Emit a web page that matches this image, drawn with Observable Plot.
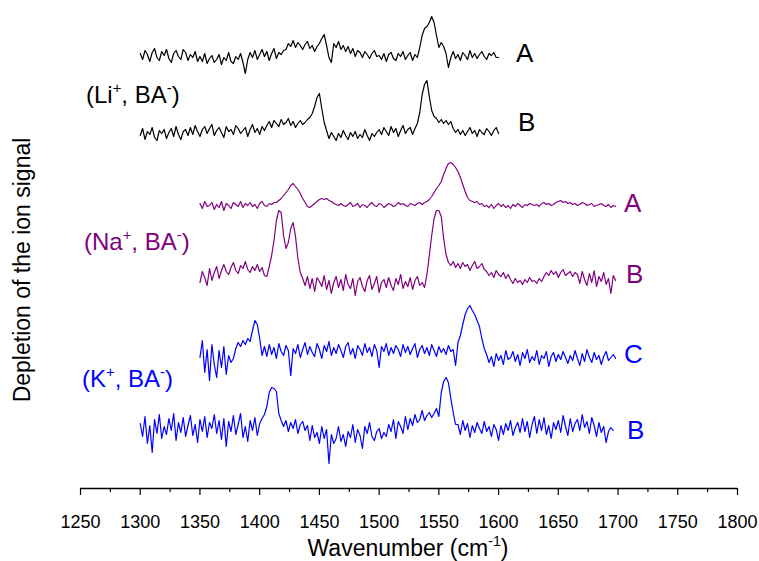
<!DOCTYPE html>
<html><head><meta charset="utf-8">
<script src="https://cdn.jsdelivr.net/npm/d3@7"></script>
<script src="https://cdn.jsdelivr.net/npm/@observablehq/plot@0.6"></script>
<style>body{margin:0;background:#fff}svg{font-family:"Liberation Sans",Arial,sans-serif}</style>
</head><body><div id="chart"></div>
<script>
// wavenumber grid: start + i*step (cm-1)
const step = 2;
const traceNames = ["LiA", "LiB", "NaA", "NaB", "KC", "KB"];
const traceStarts = [1300, 1300, 1350, 1350, 1350, 1300];
// vertical offsets of the stacked spectra (arbitrary units)
const traceOffsets = [433, 356, 283, 208, 136, 60];
const traceColors = ["#000000", "#000000", "#800080", "#800080", "#0000ff", "#0000ff"];
const traceLetters = ["A", "B", "A", "B", "C", "B"];
const groupNames = [["(Li", "+", ", BA", "-", ")"], ["(Na", "+", ", BA", "-", ")"], ["(K", "+", ", BA", "-", ")"]];
const groupColors = ["#000000", "#800080", "#0000ff"];

const liA = [2,-4,5,1,-6,3,7,-2,-5,4,0,6,-3,-7,2,5,-1,-4,6,3,-5,1,-2,4,-6,
  -1,-6,2,-8,-3,0,-7,-4,1,-9,-2,-5,3,-6,-8,-1,-4,2,-7,
  -18,-4,
  3,-2,5,-4,1,6,-1,4,-5,2,7,-3,3,1,5,
  6,12,9,15,8,13,10,6,11,14,7,10,4,9,12,
  17,21,10,-2,-7,
  12,8,14,6,10,4,9,2,7,-1,5,3,-2,4,1,-3,2,5,-1,0,
  -4,2,-6,1,3,-3,-5,2,-1,4,-4,0,3,-5,1,-2,
  8,20,27,29,33,39,33,20,8,13,9,2,-12,-2,
  4,-3,1,-5,3,0,-4,5,-2,2,-3,1,4,-1,-4,2,0,3,-2,-2];
const liB = [-3,4,-7,1,-2,5,-5,-8,2,-1,3,-6,0,4,-4,6,-2,-7,1,3,-3,
  5,-2,7,1,-4,3,6,-1,4,8,-3,2,5,0,-5,6,1,3,-2,7,4,-1,2,5,-4,3,8,0,4,-2,6,2,
  7,11,5,12,9,6,13,8,10,14,7,11,5,9,12,8,10,13,
  15,19,26,35,39,24,10,2,
  -6,0,-4,-8,-1,-5,2,-3,-7,0,-4,1,-6,-2,-5,3,-3,-8,-1,-4,0,
  3,-2,5,1,-3,6,0,4,-4,2,7,-1,3,5,-2,4,
  9,20,38,48,52,36,22,16,
  14,10,13,9,12,8,11,
  4,0,3,-2,2,-3,1,5,-1,2,-4,3,0,-2,4,1,-3,2,5,-1];
const naA = [2,-3,4,-1,0,3,-4,1,-2,4,-5,2,0,-3,3,1,-1,4,-2,2,0,3,-1,1,-3,2,4,0,-1,2,1,3,
  3,5,7,10,13,16,20,22,19,16,12,7,3,-1,-2,
  0,2,4,6,7,6,7,5,4,2,1,0,
  2,0,-1,1,3,-1,0,2,-2,1,0,-2,1,3,0,-1,2,1,-2,0,2,1,-1,0,3,1,2,0,-1,2,1,0,2,3,1,
  3,4,6,9,13,17,20,24,31,37,42,43,41,38,34,28,21,14,8,5,4,3,4,1,
  2,-1,0,-2,1,-3,0,2,-1,1,-2,0,-3,1,-1,2,0,-2,1,0,2,1,0,1,-1,2,3,1,
  2,0,1,3,4,5,3,4,2,3,1,2,0,1,3,2,0,1,2,-1,0,1,2,0,-1,1,-2,0,-1];
const naB = [-2,9,3,-5,12,0,8,14,2,10,
  16,9,6,13,18,10,7,15,12,19,11,8,14,10,16,9,13,5,
  4,14,25,40,60,70,68,45,32,38,52,58,44,22,8,2,
  -5,4,-8,2,-11,3,-1,-6,5,-9,0,-13,-2,4,-7,1,-10,6,-4,-8,2,-15,-1,3,-6,-11,0,5,-9,-3,
  4,-12,-2,1,-7,3,-5,-10,2,-4,6,-8,-1,-6,3,-9,0,4,-5,-2,-7,
  6,25,45,62,70,70,64,42,26,18,
  15,19,13,17,12,18,14,16,10,15,19,12,14,17,11,
  9,5,8,3,10,6,4,8,2,6,
  1,-3,2,-2,0,-4,1,-2,3,-1,0,-3,2,-1,
  4,8,5,10,6,9,3,8,11,5,7,9,4,8,
  6,-3,9,1,-5,7,-2,10,-6,4,-1,8,-4,2,-13,5,0];
const kC = [-5,12,-20,3,-28,8,-12,-25,2,-15,6,-22,-3,-10,
  -6,4,10,6,12,8,14,11,
  22,32,28,14,-3,
  6,-4,8,-2,5,-6,9,1,-3,7, 2,-23,4,-1,8,-5,3,10,-2,6, 0,-4,9,3,-6,7,1,11,-3,5,
  -1,8,2,-5,6,10,-2,4,-6,7, 3,-3,9,0,5,-4,8,2,-15,6, 1,9,-3,5,-1,7,3,-4,8,0,
  6,-2,4,9,-5,3,7,-1,5,-3, 8,2,-4,6,0,4,-2,7,1,3,
  -13,10,17,28,38,44,47,42,38,32,26,14,4,
  -2,-10,-4,-14,-1,-8,-3,-12,2,-7, -5,1,-9,-2,-13,0,-6,3,-10,-4, -8,2,-12,-3,-6,1,-14,-4,0,-9,
  -2,-7,1,-5,-11,-3,-8,2,-6,-13, -1,-9,3,-5,-10,0,-7,-3,-12,-4, 1,-8,-5,-2,-6];
const kB = [5,-8,12,-15,3,-24,9,-5,14,-10, 2,-6,10,-2,15,-12,6,-4,11,-8, 3,13,-7,4,-14,9,-3,12,-9,6,
  0,14,-5,8,-11,10,-18,7,-3,13, -6,4,15,-9,2,-13,8,-2,11,-7, 5,10,
  14,22,36,41,40,37,15,8,
  2,8,-3,6,0,9,-5,4,7,-2,3,
  -12,3,-9,-4,-15,2,-10,-1,-35,-6,-15,-10,2,-13,-6,-18, -3,-9,4,-14,-1,-7,-20,2,-5,6, -8,-12,-3,0,-10,-4,
  -8,4,-3,9,-10,7,2,-5,12,-1,10,3,14,6,9,18,8,13,16,11,15,20,12,
  36,47,51,46,30,16,4,
  4,-6,8,-2,5,-9,3,-4,6,0, -5,7,-3,2,-8,4,-1,-12,3,-6, 5,-2,8,-7,1,6,-4,10,-3,7,
  -9,4,12,-5,9,-2,11,-6,3,-10, 6,-1,8,-4,13,2,-7,10,-3,5, 9,-2,14,1,7,-5,11,3,-8,6, -4,2,-14,-3,1,-2];
const traceValues = [liA, liB, naA, naB, kC, kB];

const majorTicks = [1250,1300,1350,1400,1450,1500,1550,1600,1650,1700,1750,1800];
const minorTicks = [1275,1325,1375,1425,1475,1525,1575,1625,1675,1725,1775];

const rows = traceValues.map((vals, k) => vals.map((v, i) => ({
  wn: traceStarts[k] + i * step, y: traceOffsets[k] + v, trace: traceNames[k]
})));

const chart = Plot.plot({
  width: 759, height: 561,
  marginLeft: 80, marginRight: 22, marginTop: 18, marginBottom: 73,
  x: {domain: [1250, 1800]},
  y: {domain: [0, 470], axis: null},
  style: {fontFamily: '"Liberation Sans", Arial, sans-serif', background: "#fff", color: "#000"},
  marks: [
    ...rows.map((r, k) => Plot.line(r, {x: "wn", y: "y", stroke: traceColors[k], strokeWidth: 1.2})),
    Plot.ruleY([0], {stroke: "#000", strokeWidth: 1.3}),
    Plot.axisX({ticks: minorTicks, tickSize: 4, tickFormat: () => "", label: null, strokeWidth: 1.2}),
    Plot.axisX({ticks: majorTicks, tickSize: 7, tickPadding: 20, fontSize: 18, tickFormat: d => String(d), label: null, strokeWidth: 1.2})
  ]
});
document.getElementById("chart").appendChild(chart);

const svg = d3.select(chart);
const FONT = '"Liberation Sans", Arial, sans-serif';
function addText(x, y, parts, color, size, anchor, rotate) {
  const t = svg.append("text")
    .attr("x", x).attr("y", y)
    .attr("fill", color)
    .attr("text-anchor", anchor)
    .style("font-family", FONT)
    .style("font-size", size + "px");
  if (rotate) t.attr("transform", `rotate(${rotate},${x},${y})`);
  parts.forEach((p, i) => {
    const sup = i % 2 === 1;
    const ts = t.append("tspan").text(p);
    if (sup) ts.attr("dy", -0.42 * size).style("font-size", (0.62 * size) + "px");
    else if (i > 0) ts.attr("dy", 0.42 * size);
  });
  return t;
}

// spectrum letters (right of each trace)
const letterPos = [[516, 62], [518, 131], [624, 212], [626, 283], [624, 363], [627, 439]];
traceLetters.forEach((L, k) => addText(letterPos[k][0], letterPos[k][1], [L], traceColors[k], 26, "start"));

// group labels
const groupPos = [[86, 103], [84, 250], [82, 387]];
groupNames.forEach((g, k) => addText(groupPos[k][0], groupPos[k][1], g, groupColors[k], 24, "start"));

// axis titles
addText(408, 556, ["Wavenumber (cm", "-1", ")"], "#000", 23, "middle");
addText(30, 270, ["Depletion of the ion signal"], "#000", 23, "middle", -90);
</script></body></html>
